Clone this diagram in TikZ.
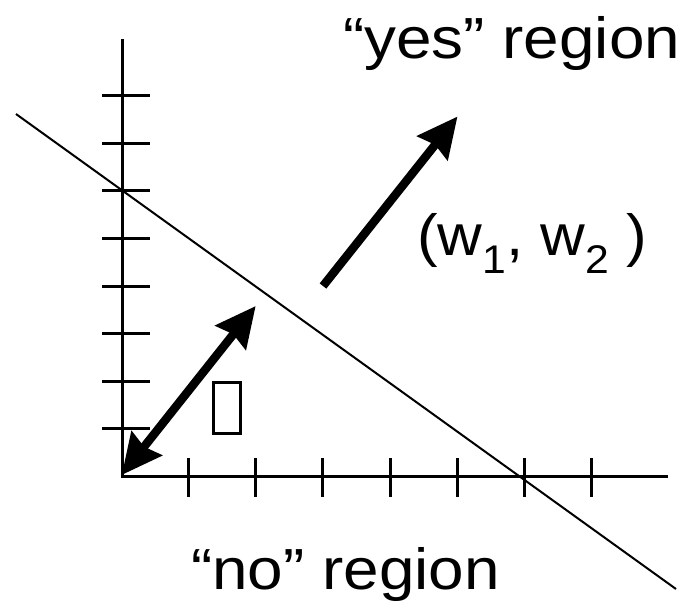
\documentclass[tikz,border=0pt]{standalone}
\usepackage{fontspec}
\setmainfont{Liberation Sans}
\usetikzlibrary{arrows.meta}
\tikzset{
  axisline/.style={line width=3pt},
  tickline/.style={line width=3pt},
  boundary/.style={line width=2pt},
  headtip/.tip={Stealth[length=40pt,width=38pt,inset=4pt]},
  bigarrow/.style={line width=8.5pt, -headtip},
  dblarrow/.style={line width=8.5pt, headtip-headtip},
  lbl/.style={inner sep=0pt, anchor=base west, xscale=1.1, font=\fontsize{58}{60}\selectfont},
  glyphbox/.style={draw, line width=3.3pt, minimum width=27pt, minimum height=51pt, inner sep=0pt}
}
\begin{document}
\begin{tikzpicture}[x=1pt,y=-1pt]
\useasboundingbox (0,0) rectangle (685,614);
% axes
\coordinate (O) at (122,476);
\coordinate (ytop) at (122,39);
\coordinate (xend) at (668,476);
\draw[axisline] (ytop) -- (O) -- (xend);
% ticks on vertical axis
\foreach \k in {0,...,7}{
  \coordinate (yl\k) at (102,{95.7+47.6*\k});
  \coordinate (yr\k) at (150,{95.7+47.6*\k});
  \draw[tickline] (yl\k) -- (yr\k);
}
% ticks on horizontal axis
\foreach \k in {0,...,6}{
  \coordinate (xt\k) at ({188.5+67.2*\k},458);
  \coordinate (xb\k) at ({188.5+67.2*\k},497);
  \draw[tickline] (xt\k) -- (xb\k);
}
% decision boundary
\coordinate (bA) at (16,114);
\coordinate (bB) at (676,589);
\draw[boundary] (bA) -- (bB);
% weight vector
\coordinate (wtail) at (323,286);
\coordinate (wtip) at (457.5,116.5);
\draw[bigarrow] (wtail) -- (wtip);
% distance arrow
\coordinate (dlow) at (121.7,475);
\coordinate (dhigh) at (255.7,306);
\draw[dblarrow] (dlow) -- (dhigh);
% missing glyph box
\node[glyphbox] (theta) at (226.7,407.9) {};
% labels
\node[lbl] (yes) at (343,58) {“yes” region};
\node[lbl] (no) at (191,589) {“no” region};
\node[lbl, xscale=0.97] (w) at (417,255) {(w\raisebox{-18pt}{\fontsize{40}{40}\selectfont 1}, w\raisebox{-18pt}{\fontsize{40}{40}\selectfont 2} )};
\end{tikzpicture}
\end{document}
